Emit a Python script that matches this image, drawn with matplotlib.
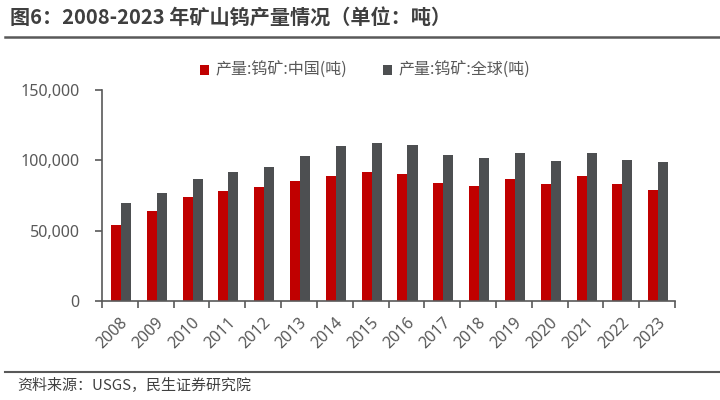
import matplotlib
matplotlib.use("Agg")
import matplotlib.pyplot as plt
import numpy as np
from matplotlib.ticker import FuncFormatter, FixedLocator

plt.rcParams['font.family'] = ['Noto Sans CJK SC', 'DejaVu Sans']

years = [str(y) for y in range(2008, 2024)]
china = [54000, 64000, 74000, 78000, 81000, 85500, 89000, 92000, 90500, 84000, 82000, 87000, 83000, 89000, 83000, 79000]
world = [70000, 77000, 86500, 92000, 95500, 103000, 110000, 112500, 111000, 103500, 102000, 105500, 99500, 105500, 100500, 98500]
labels = ['产量:钨矿:中国(吨)', '产量:钨矿:全球(吨)']
title = '图6：2008-2023 年矿山钨产量情况（单位：吨）'
source = '资料来源：USGS，民生证券研究院'

red = '#C00000'
grey = '#4D4F51'
axc = '#595959'
txt = '#595959'
num_font = ['Noto Sans', 'DejaVu Sans']

fig = plt.figure(figsize=(7.2, 4.0), dpi=100)
ax = fig.add_axes([102/720, 1-301/400, (675-102)/720, (301-90)/400])

x = np.arange(len(years))
w = 0.28
ax.bar(x - w/2 + 0.03, china, width=w, color=red, label=labels[0])
ax.bar(x + w/2 + 0.03, world, width=w, color=grey, label=labels[1])

ax.set_xlim(-0.5, len(years) - 0.5)
ax.set_ylim(0, 150000)
ax.yaxis.set_major_locator(FixedLocator([0, 50000, 100000, 150000]))
ax.yaxis.set_major_formatter(FuncFormatter(lambda v, p: f'{int(v):,}'))

for s in ['top', 'right']:
    ax.spines[s].set_visible(False)
for s in ['left', 'bottom']:
    ax.spines[s].set_color(axc)
    ax.spines[s].set_linewidth(1.2)

ax.set_xticks(x)
ax.set_xticklabels(years, rotation=45, ha='right', rotation_mode='anchor')
ax.set_xticks(np.arange(-0.5, len(years)), minor=True)
ax.tick_params(axis='x', which='major', length=0, pad=10, labelsize=11.5, labelcolor=txt)
ax.tick_params(axis='x', which='minor', length=5, width=1.2, color=axc, direction='out')
ax.tick_params(axis='y', which='major', length=5, width=1.2, color=axc, labelsize=11.5, labelcolor=txt, pad=11)
for lab in ax.get_xticklabels() + ax.get_yticklabels():
    lab.set_family(num_font)

leg = ax.legend(loc='upper center', bbox_to_anchor=(0.459, 1.2), ncol=2, frameon=False,
                fontsize=11.5, handlelength=0.6, handleheight=0.6, handletextpad=0.4,
                columnspacing=2.2, labelcolor=txt)

fig.text(10/720, 1-17/400, title, fontsize=14.5, fontweight='bold', color='#3F3F3F', va='center', ha='left')
fig.add_artist(plt.Line2D([5/720, 1], [1-37/400, 1-37/400], color='#595959', lw=1.8))
fig.add_artist(plt.Line2D([5/720, 1], [1-372/400, 1-372/400], color='#595959', lw=1.5))
fig.text(17/720, 1-386/400, source, fontsize=10.8, color='#404040', va='center', ha='left')

fig.savefig('out.png', dpi=100)
